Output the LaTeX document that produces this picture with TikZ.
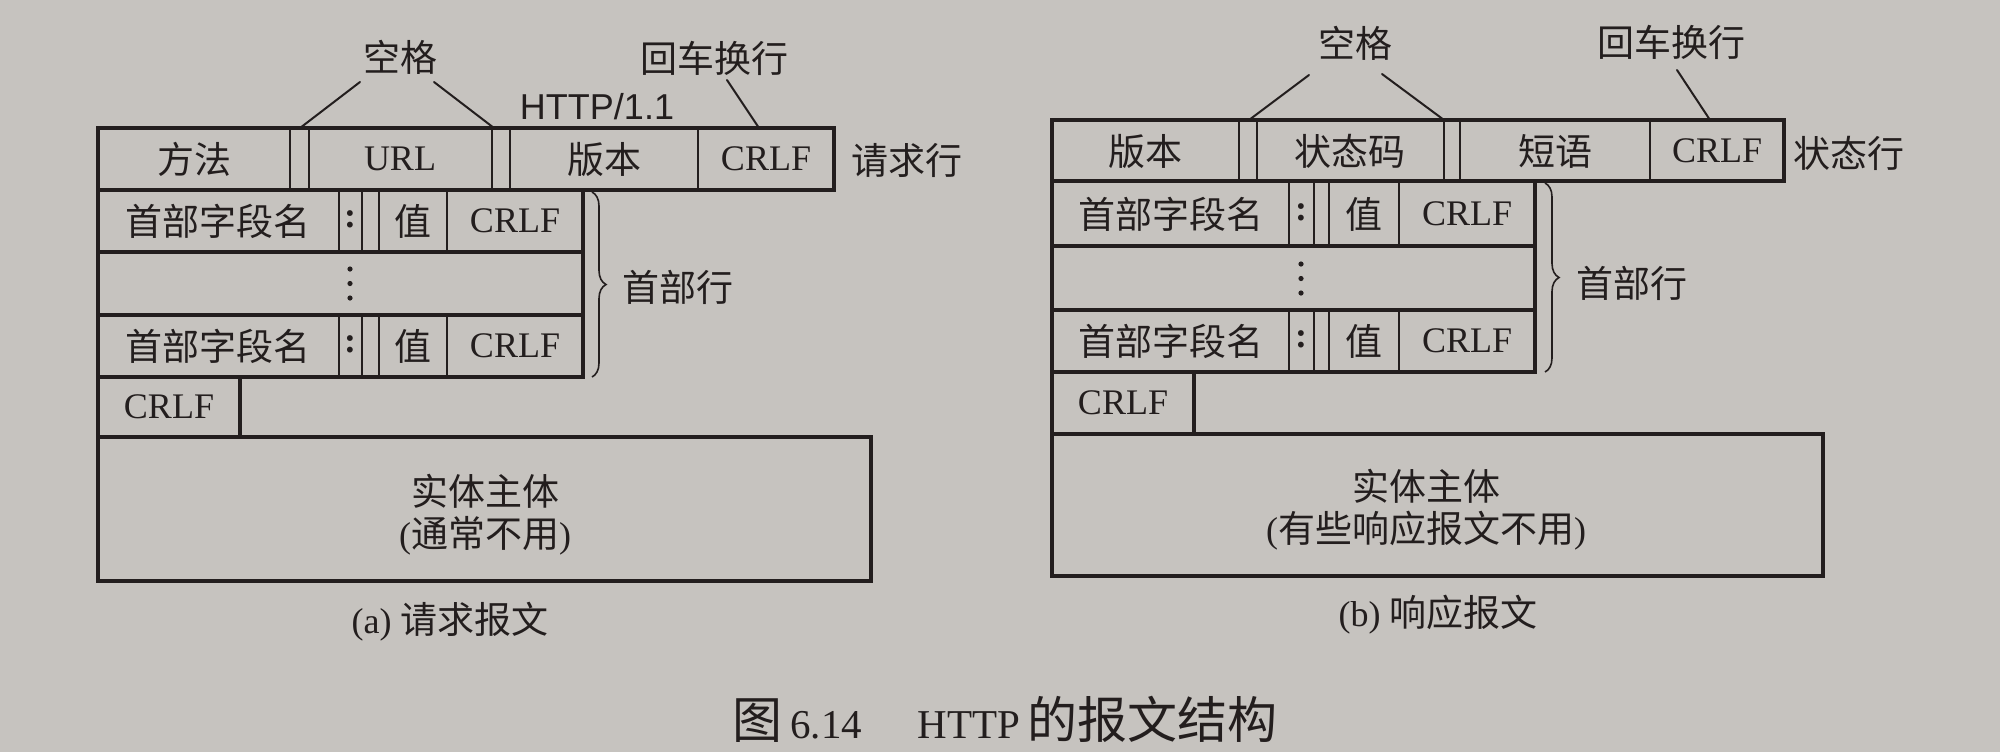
\documentclass[tikz,border=0pt]{standalone}
\usepackage{fontspec}
\setmainfont{Liberation Serif}
\newfontfamily\cjk{Noto Sans CJK SC}
\newfontfamily\handf{Liberation Sans}
\newcommand\zh[1]{{\cjk\fontsize{18.5pt}{22pt}\selectfont #1}}
\usetikzlibrary{decorations.pathreplacing}
\definecolor{paper}{RGB}{198,195,191}
\definecolor{ink}{RGB}{35,30,30}
\begin{document}
\begin{tikzpicture}[x=0.5pt,y=-0.5pt,
  rowbox/.style={draw=ink, line width=2pt},
  divline/.style={draw=ink, line width=1pt},
  leadline/.style={draw=ink, line width=1pt, line cap=round},
  lbl/.style={text=ink, inner sep=0pt, font=\fontsize{18pt}{22pt}\selectfont},
  handlbl/.style={text=ink, inner sep=0pt, font=\handf\fontsize{18pt}{20pt}\selectfont},
  caplbl/.style={text=ink, inner sep=0pt, font=\fontsize{20.5pt}{24pt}\selectfont},
  hdrbrace/.style={draw=ink, line width=0.8pt, decorate, decoration={brace, amplitude=7pt}},
  dotmark/.style={fill=ink}
]
\useasboundingbox (0,0) rectangle (2000,752);
\fill[paper] (0,0) rectangle (2000,752);

%% ================= (a) request message =================
% request line
\draw[rowbox] (98,128) rectangle (834,190);
\foreach \x in {290,309,492,510,698} \draw[divline] (\x,128) -- (\x,190);
\node[lbl] (a-method) at (194,159) {\zh{方法}};
\node[lbl] (a-url) at (400,159) {URL};
\node[lbl] (a-ver) at (604,159) {\zh{版本}};
\node[lbl] (a-crlf0) at (766,159) {CRLF};
\node[lbl] (a-reqline) at (907,160) {\zh{请求行}};

% header lines
\draw[rowbox] (98,190) rectangle (583,252);
\draw[rowbox] (98,252) rectangle (583,315);
\draw[rowbox] (98,315) rectangle (583,377);
\foreach \x in {339,362,379,447} {
  \draw[divline] (\x,190) -- (\x,252);
  \draw[divline] (\x,315) -- (\x,377);
}
\node[lbl] (a-hn1) at (218,221) {\zh{首部字段名}};
\node[lbl] (a-co1) at (350,219) {\textbf{:}};
\node[lbl] (a-va1) at (413,221) {\zh{值}};
\node[lbl] (a-cr1) at (515,221) {CRLF};
\node[lbl] (a-hn3) at (218,346) {\zh{首部字段名}};
\node[lbl] (a-co3) at (350,344) {\textbf{:}};
\node[lbl] (a-va3) at (413,346) {\zh{值}};
\node[lbl] (a-cr3) at (515,346) {CRLF};
\fill[dotmark] (350,269) circle (2.6);
\fill[dotmark] (350,283.5) circle (2.6);
\fill[dotmark] (350,298) circle (2.6);

% brace
\coordinate (a-brt) at (592,192);
\coordinate (a-brb) at (592,377);
\draw[hdrbrace] (a-brt) -- (a-brb);
\node[lbl] (a-hdr) at (678,287) {\zh{首部行}};

% blank line and body
\draw[rowbox] (98,377) rectangle (240,437);
\node[lbl] (a-crlf2) at (169,407) {CRLF};
\draw[rowbox] (98,437) rectangle (871,581);
\node[lbl, align=center] (a-body) at (485,515) {\zh{实体主体}\\[-1pt](\zh{通常不用})};
\node[lbl] (a-cap) at (450,622) {(a) \zh{请求报文}};

% annotations
\node[lbl] (a-kg) at (400,57) {\zh{空格}};
\coordinate (a-kg1s) at (360,82);
\coordinate (a-kg1e) at (300,128);
\coordinate (a-kg2s) at (434,82);
\coordinate (a-kg2e) at (494,128);
\draw[leadline] (a-kg1s) -- (a-kg1e);
\draw[leadline] (a-kg2s) -- (a-kg2e);
\node[lbl] (a-hc) at (714,58) {\zh{回车换行}};
\coordinate (a-hcs) at (727,80);
\coordinate (a-hce) at (759,128);
\draw[leadline] (a-hcs) -- (a-hce);
\node[handlbl] (a-http) at (597,107) {HTTP/1.1};

%% ================= (b) response message =================
\draw[rowbox] (1052,120) rectangle (1784,181);
\foreach \x in {1239,1257,1444,1460,1650} \draw[divline] (\x,120) -- (\x,181);
\node[lbl] (b-ver) at (1145,151) {\zh{版本}};
\node[lbl] (b-code) at (1350,151) {\zh{状态码}};
\node[lbl] (b-phr) at (1555,151) {\zh{短语}};
\node[lbl] (b-crlf0) at (1717,151) {CRLF};
\node[lbl] (b-stline) at (1849,153) {\zh{状态行}};

\draw[rowbox] (1052,181) rectangle (1535,246);
\draw[rowbox] (1052,246) rectangle (1535,310);
\draw[rowbox] (1052,310) rectangle (1535,372);
\foreach \x in {1289,1314,1329,1399} {
  \draw[divline] (\x,181) -- (\x,246);
  \draw[divline] (\x,310) -- (\x,372);
}
\node[lbl] (b-hn1) at (1171,214) {\zh{首部字段名}};
\node[lbl] (b-co1) at (1301,212) {\textbf{:}};
\node[lbl] (b-va1) at (1364,214) {\zh{值}};
\node[lbl] (b-cr1) at (1467,214) {CRLF};
\node[lbl] (b-hn3) at (1171,341) {\zh{首部字段名}};
\node[lbl] (b-co3) at (1301,339) {\textbf{:}};
\node[lbl] (b-va3) at (1364,341) {\zh{值}};
\node[lbl] (b-cr3) at (1467,341) {CRLF};
\fill[dotmark] (1301,264) circle (2.6);
\fill[dotmark] (1301,278.5) circle (2.6);
\fill[dotmark] (1301,293) circle (2.6);

\coordinate (b-brt) at (1545,183);
\coordinate (b-brb) at (1545,372);
\draw[hdrbrace] (b-brt) -- (b-brb);
\node[lbl] (b-hdr) at (1632,283) {\zh{首部行}};

\draw[rowbox] (1052,372) rectangle (1194,434);
\node[lbl] (b-crlf2) at (1123,403) {CRLF};
\draw[rowbox] (1052,434) rectangle (1823,576);
\node[lbl, align=center] (b-body) at (1426,510) {\zh{实体主体}\\[-1pt](\zh{有些响应报文不用})};
\node[lbl] (b-cap) at (1438,615) {(b) \zh{响应报文}};

\node[lbl] (b-kg) at (1355,43) {\zh{空格}};
\coordinate (b-kg1s) at (1309,75);
\coordinate (b-kg1e) at (1249,120);
\coordinate (b-kg2s) at (1382,74);
\coordinate (b-kg2e) at (1444,120);
\draw[leadline] (b-kg1s) -- (b-kg1e);
\draw[leadline] (b-kg2s) -- (b-kg2e);
\node[lbl] (b-hc) at (1671,42) {\zh{回车换行}};
\coordinate (b-hcs) at (1677,70);
\coordinate (b-hce) at (1710,120);
\draw[leadline] (b-hcs) -- (b-hce);

%% ================= figure caption =================
\node[caplbl, anchor=base west] (cap1) at (732,738) {{\cjk\fontsize{25pt}{28pt}\selectfont 图}\hspace{4pt}6.14};
\node[caplbl, anchor=base west] (cap2) at (917,738) {HTTP\hspace{4pt}{\cjk\fontsize{25pt}{28pt}\selectfont 的报文结构}};
\end{tikzpicture}
\end{document}
